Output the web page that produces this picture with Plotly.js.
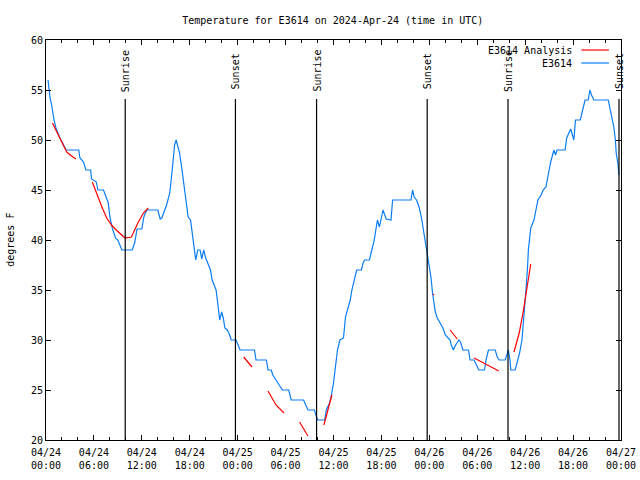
<!DOCTYPE html>
<html>
<head>
<meta charset="utf-8">
<script src="https://cdn.plot.ly/plotly-3.0.1.min.js"></script>
<style>html,body{margin:0;padding:0;background:#fff;}#chart{width:640px;height:480px;}</style>
</head>
<body>
<div id="chart"></div>
<script>
// Hours since 2024-04-24 00:00 UTC and temperatures (degrees F)
const stationHours = [0.25,0.5,0.75,1,1.25,1.75,2.4,2.5,4.1,4.25,4.7,5,5.6,5.7,6.3,6.5,7.2,7.4,7.8,8,8.3,8.7,9.0,9.5,10.8,11.1,11.4,12,12.25,12.6,14.0,14.3,14.5,15.1,15.5,15.8,16.1,16.3,16.7,17,17.25,17.5,17.8,18.1,18.3,18.5,18.75,19.0,19.3,19.5,19.75,20,20.3,20.6,20.8,21.1,21.3,21.5,21.75,22,22.2,22.4,22.7,22.9,23.2,23.8,24.3,26.1,26.3,27.6,27.8,28.2,28.4,28.8,29.25,29.6,30.4,30.7,32.25,32.5,32.8,33.6,33.8,34,34.9,35.1,35.5,35.7,36,36.25,36.5,36.8,37.25,37.5,37.8,38.1,38.3,38.6,38.9,39.5,39.7,39.9,40.5,40.8,41.1,41.3,41.5,41.75,42,42.2,42.6,43.2,43.4,45.7,45.9,46.1,46.4,46.75,47,47.2,47.7,48,48.2,48.4,48.6,48.75,49,49.3,49.7,50,50.3,50.6,50.75,51,51.3,51.7,51.9,52.2,52.9,53.1,53.6,53.9,54.2,54.9,55.1,55.4,56.25,56.5,56.75,57.5,57.7,57.9,58.1,58.2,58.75,59,59.3,59.6,59.75,59.9,60.1,60.3,60.4,60.7,61.1,61.3,61.6,62,62.25,62.6,62.8,63,63.2,63.4,63.6,63.8,64,65,65.2,65.7,65.9,66.1,66.3,66.9,67.2,67.5,67.9,68.1,68.3,68.6,70.4,70.6,70.8,71.1,71.3,71.4,71.6,71.75];
const stationTemps = [56,54.3,53.3,52,51.2,50.2,49.2,49,49,48.2,47.8,47,47,46.1,45.8,45,45,44.5,43.7,42.3,41.2,40.2,40,39,39,39.7,41.1,41.1,42.3,43,43,42.1,42.2,43.5,44.7,47,49.5,50,48.8,47.2,45.7,43.7,42.3,42,40.7,39.3,38,39,39,38.1,39,38.2,37.5,37,36,35.3,35,33.7,32,32.8,32.2,31.2,31,30.7,30,30,29,29,28,28,27,27,26.5,26,25.5,25,25,24,24,23.5,23,23,22.5,22,22,23,23.7,24.3,25.7,27.5,29,30,30.2,32.3,33.1,34,35,36,37,37,37.7,38,38,39,40,41,42,41.3,42.5,43,42.1,42,44,44,45,44.3,44,43.2,42.3,41.3,39,37.7,36.3,34.7,33.7,32.8,32.2,31.7,31.2,30.5,30.2,30,29.5,29,29.5,30,29.8,29,29,28,28,27.5,27,27,28,29,29,28.3,28,28,28.5,29,28,27,27,27.7,28.7,30,31.3,33,35,37.3,39,41.2,42,42.8,44,44.5,45,45.3,46.3,47,47.8,48.3,49,48.5,49,49,50.2,51.1,50.5,50,52,52,53,54,54,55,54.5,54,54,53.3,52.3,51.3,50,48.7,47.7,46.5];

// Analysis segments (null separates segments)
const analysisHours = [0.8,1.75,2.6,3.2,3.75,null,5.8,6.3,7,7.6,8.2,8.8,9.5,9.9,10.7,11.1,11.5,12.2,12.8,null,24.75,25.8,null,27.8,28.4,28.8,29.8,null,31.75,32.8,null,34.8,35.2,35.8,null,48.45,48.6,null,50.6,51.5,null,53.6,55.1,56.7,null,58.6,59.25,59.75,60.2,60.7];
const analysisTemps = [51.7,50.2,48.8,48.4,48.1,null,45.8,44.7,43.3,42.2,41.5,41,40.5,40.2,40.3,41,41.7,42.7,43.2,null,28.3,27.3,null,24.9,24,23.5,22.7,null,21.8,20.4,null,21.5,22.8,24.5,null,34.6,34.5,null,31,30.1,null,28.2,27.6,26.9,null,28.8,30.7,32.8,35,37.6];

// Sun events (hours since 2024-04-24 00:00 UTC)
const sunEventHours = [9.92, 23.72, 33.88, 47.73, 57.85, 71.75];
const sunEventLabels = ["Sunrise","Sunset","Sunrise","Sunset","Sunrise","Sunset"];

const seriesNames = ["E3614 Analysis", "E3614"];
const yTickValues = [20,25,30,35,40,45,50,55,60];

const base = Date.UTC(2024, 3, 24, 0, 0, 0);
function toDate(h) {
  if (h === null) return null;
  const d = new Date(base + h * 3600000);
  return d.toISOString().replace('T',' ').slice(0,19);
}

const FONT = "DejaVu Sans Mono, Liberation Mono, monospace";
const BLUE = "#0a7df5";
const RED = "#ff0000";

const traces = [
  {
    x: stationHours.map(toDate), y: stationTemps, type: "scatter", mode: "lines",
    name: seriesNames[1], line: {color: BLUE, width: 1.2}, showlegend: false, hoverinfo: "skip"
  },
  {
    x: analysisHours.map(toDate), y: analysisTemps, type: "scatter", mode: "lines",
    name: seriesNames[0], line: {color: RED, width: 1.2}, connectgaps: false, showlegend: false, hoverinfo: "skip"
  }
];

const shapes = [];
const annotations = [];
sunEventHours.forEach((h, i) => {
  shapes.push({type: "line", xref: "x", yref: "paper", x0: toDate(h), x1: toDate(h), y0: 0, y1: 0.8525,
    line: {color: "black", width: 1.2}});
  annotations.push({xref: "x", yref: "paper", x: toDate(h), y: 0.9225, text: sunEventLabels[i],
    showarrow: false, textangle: -90, font: {family: FONT, size: 10, color: "black"},
    xanchor: "center", yanchor: "middle"});
});

// Legend (gnuplot style: text then sample line)
const legendY = [0.975, 0.9425];
const legendColors = [RED, BLUE];
seriesNames.forEach((n, i) => {
  annotations.push({xref: "paper", yref: "paper", x: 0.918, y: legendY[i], text: n, showarrow: false,
    xanchor: "right", yanchor: "middle", font: {family: FONT, size: 10, color: "black"}});
  shapes.push({type: "line", xref: "paper", yref: "paper", x0: 0.931, x1: 0.979, y0: legendY[i], y1: legendY[i],
    line: {color: legendColors[i], width: 1.2}});
});

// y-axis title
annotations.push({xref: "paper", yref: "paper", x: -0.063, y: 0.5, text: "degrees F", showarrow: false,
  textangle: -90, xanchor: "center", yanchor: "middle", font: {family: FONT, size: 10, color: "black"}});

const layout = {
  width: 640, height: 480,
  margin: {l: 46, r: 19, t: 40, b: 40},
  paper_bgcolor: "white", plot_bgcolor: "white",
  font: {family: FONT, size: 10, color: "black"},
  title: {text: "Temperature for E3614 on 2024-Apr-24 (time in UTC)", font: {family: FONT, size: 10, color: "black"},
    x: 0.52, xanchor: "center", y: 0.958, yanchor: "middle", yref: "container"},
  xaxis: {
    type: "date", range: [toDate(0), toDate(72)], tick0: toDate(0), dtick: 6 * 3600000,
    tickformat: "%m/%d<br>%H:%M", ticks: "inside", ticklen: 5, tickcolor: "black", tickwidth: 1,
    ticklabelstandoff: 3,
    minor: {dtick: 2 * 3600000, ticks: "inside", ticklen: 3, tickcolor: "black", showgrid: false},
    showgrid: false, zeroline: false, showline: true, linecolor: "black", linewidth: 1, mirror: "allticks",
    tickfont: {family: FONT, size: 10, color: "black"}, fixedrange: true, automargin: false
  },
  yaxis: {
    range: [20, 60], tickvals: yTickValues, ticks: "inside", ticklen: 5, tickcolor: "black",
    showgrid: false, zeroline: false, showline: true, linecolor: "black", linewidth: 1, mirror: "allticks",
    tickfont: {family: FONT, size: 10, color: "black"}, fixedrange: true, automargin: false
  },
  shapes: shapes,
  annotations: annotations,
  showlegend: false
};

Plotly.newPlot("chart", traces, layout, {staticPlot: true, displayModeBar: false});
</script>
</body>
</html>
